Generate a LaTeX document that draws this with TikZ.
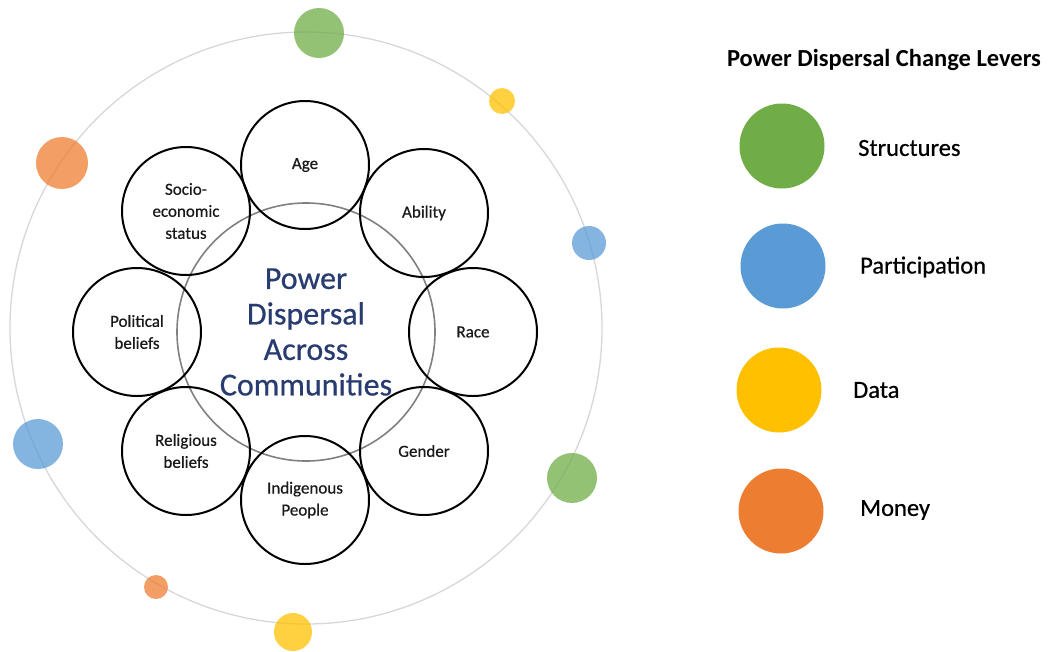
\documentclass[tikz,border=0pt]{standalone}
\usepackage{fontspec}
\setmainfont{Carlito}
\newfontfamily\heavyfont{Carlito}[FakeBold=0.6]

\definecolor{lvgreen}{RGB}{112,173,71}
\definecolor{lvblue}{RGB}{91,155,213}
\definecolor{lvyellow}{RGB}{255,192,0}
\definecolor{lvorange}{RGB}{237,125,49}
\definecolor{hubtext}{RGB}{40,60,112}
\definecolor{orbitgray}{RGB}{215,215,215}

\tikzset{
  factor/.style={circle,draw=black,line width=2pt,minimum size=128pt,inner sep=0pt,
    align=center,text=black!90,font=\heavyfont\fontsize{17}{22}\selectfont},
  dot/.style={circle,inner sep=0pt,fill opacity=0.75},
  lever/.style={circle,minimum size=85pt,inner sep=0pt},
  levertext/.style={anchor=west,inner sep=0pt,font=\heavyfont\fontsize{24.5}{28}\selectfont}
}

\begin{document}
\begin{tikzpicture}[line cap=round,line join=round,x=1pt,y=-1pt]
\useasboundingbox (0,0) rectangle (1049,651);
% outer orbit
\draw [color=orbitgray,line width=1.3pt] (306,328) circle [radius=296pt];
% centre
\node[circle,draw=gray,line width=1.6pt,minimum size=258pt,inner sep=0pt,align=center,
  text=hubtext,font=\heavyfont\fontsize{32}{35.5}\selectfont] (hub) at (306,332)
  {Power\\Dispersal\\Across\\Communities};
% ring of factors
\node[factor] (age) at (305,165) {Age};
\node[factor] (ability) at (424,213) {Ability};
\node[factor] (race) at (473,332) {Race};
\node[factor] (gender) at (424,451) {Gender};
\node[factor] (indigenous) at (305,500) {Indigenous\\People};
\node[factor] (religious) at (186,451) {Religious\\beliefs};
\node[factor] (political) at (137,332) {Political\\beliefs};
\node[factor] (socio) at (186,211) {Socio-\\economic\\status};
% levers on the orbit
\node[dot,fill=lvgreen,minimum size=50pt] (d1) at (319,33) {};
\node[dot,fill=lvyellow,minimum size=26pt] (d2) at (502,101) {};
\node[dot,fill=lvblue,minimum size=34pt] (d3) at (589,243) {};
\node[dot,fill=lvgreen,minimum size=50pt] (d4) at (572,478) {};
\node[dot,fill=lvyellow,minimum size=38pt] (d5) at (293,632) {};
\node[dot,fill=lvorange,minimum size=24pt] (d6) at (156,587) {};
\node[dot,fill=lvblue,minimum size=50pt] (d7) at (38,444) {};
\node[dot,fill=lvorange,minimum size=52pt] (d8) at (62,163) {};
% legend
\node[font=\bfseries\fontsize{24.5}{28}\selectfont] (title) at (884,60) {Power Dispersal Change Levers};
\node[lever,fill=lvgreen] (structures) at (782,146) {};
\node[lever,fill=lvblue] (participation) at (783,266) {};
\node[lever,fill=lvyellow] (data) at (779,390) {};
\node[lever,fill=lvorange] (money) at (781,511) {};
\node[levertext] (structureslbl) at (858,148) {Structures};
\node[levertext] (participationlbl) at (860,267) {Participation};
\node[levertext] (datalbl) at (853,390) {Data};
\node[levertext] (moneylbl) at (860,510) {Money};
\end{tikzpicture}
\end{document}
